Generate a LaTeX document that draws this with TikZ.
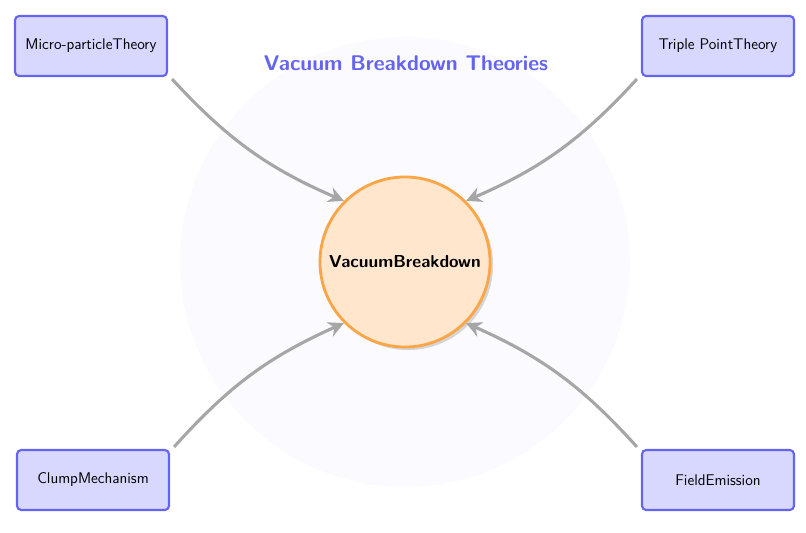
\documentclass[tikz,border=0pt]{standalone}
\usetikzlibrary{positioning,arrows.meta,shadows}
\definecolor{boxfill}{RGB}{216,216,255}
\definecolor{boxline}{RGB}{100,100,240}
\definecolor{corefill}{RGB}{255,230,204}
\definecolor{coreline}{RGB}{250,165,70}
\tikzset{
  theory/.style={draw=boxline,fill=boxfill,line width=1.5pt,rounded corners=3pt,
    minimum width=3.8cm,minimum height=1.5cm,font=\sffamily\fontsize{11}{13}\selectfont},
  link/.style={draw=gray!70,line width=2.2pt,-{Stealth[length=11pt,width=11pt]}}
}
\begin{document}
\begin{tikzpicture}[x=0.025cm,y=-0.025cm]
  \useasboundingbox (0,0) rectangle (806,532);
  \fill[blue!2] (405,262) circle[radius=225];
  \node[font=\sffamily\fontsize{15.1}{18}\selectfont\bfseries,text=boxline] (title) at (406,63) {Vacuum Breakdown Theories};

  \node[circle,draw=coreline,fill=corefill,line width=2pt,minimum size=4.25cm,
    font=\sffamily\fontsize{12.3}{15}\selectfont\bfseries,drop shadow={opacity=0.3}] (vb) at (405,262) {VacuumBreakdown};

  \node[theory] (micro) at (91,46) {Micro-particleTheory};
  \node[theory] (triple) at (718,46) {Triple PointTheory};
  \node[theory] (clump) at (93,480) {ClumpMechanism};
  \node[theory] (field) at (718,480) {FieldEmission};

  \draw[link] (micro.south east) ++(4,2) coordinate (m0) to[bend right=12] (vb.135);
  \draw[link] (triple.south west) ++(-4,2) coordinate (t0) to[bend left=12] (vb.45);
  \draw[link] (clump.north east) ++(4,-2) coordinate (c0) to[bend left=12] (vb.225);
  \draw[link] (field.north west) ++(-4,-2) coordinate (f0) to[bend right=12] (vb.315);
\end{tikzpicture}
\end{document}
